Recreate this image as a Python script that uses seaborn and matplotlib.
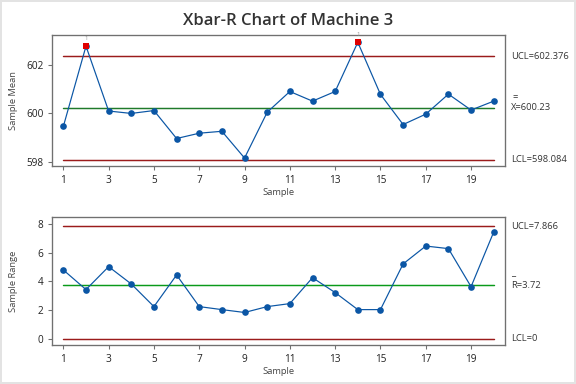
import matplotlib
matplotlib.use("Agg")
import matplotlib.pyplot as plt
import matplotlib.transforms as mtransforms
import pandas as pd
import seaborn as sns

samples = list(range(1, 21))
sample_means = [599.46, 602.79, 600.10, 600.00, 600.12, 598.96, 599.18, 599.26, 598.15, 600.05,
                600.91, 600.51, 600.91, 602.95, 600.79, 599.54, 599.97, 600.80, 600.14, 600.51]
sample_ranges = [4.80, 3.43, 5.03, 3.82, 2.24, 4.45, 2.24, 2.03, 1.83, 2.24,
                 2.45, 4.26, 3.22, 2.03, 2.03, 5.22, 6.47, 6.29, 3.63, 7.45]
xbar_limits = {"UCL": 602.376, "CL": 600.23, "LCL": 598.084}
r_limits = {"UCL": 7.866, "CL": 3.72, "LCL": 0.0}
out_of_control = [2, 14]

df = pd.DataFrame({"Sample": samples, "Mean": sample_means, "Range": sample_ranges})
flagged = df[df["Sample"].isin(out_of_control)]

sns.set_style("white")
plt.rcParams["font.family"] = ["Open Sans", "DejaVu Sans"]

blue = "#0B56A5"
red_line = "#9B1B1B"
green_top = "#1F7A2A"
green_bot = "#0A9A1A"
text_gray = "#333333"

fig = plt.figure(figsize=(6, 4), dpi=96)
fig.patch.set_edgecolor("#E3E3E3")
fig.patch.set_linewidth(3)

ax1 = fig.add_axes([0.0903, 0.5677, 0.7865, 0.341])
ax2 = fig.add_axes([0.0903, 0.1016, 0.7865, 0.333])


def style_axis(ax):
    for side in ax.spines.values():
        side.set_color("#707070")
        side.set_linewidth(1.0)
    ax.tick_params(axis="both", which="both", length=3, width=0.8, color="#707070",
                   labelsize=7.5, labelcolor="#222222", direction="out", left=True, bottom=True)
    ax.set_xlim(0.5, 20.5)
    ax.set_xticks(range(1, 21, 2))
    ax.set_xlabel("Sample", fontsize=7, color="#444444", labelpad=4)
    ax.xaxis.set_label_coords(0.5, -0.17)


def limit_lines(ax, limits, green):
    ax.plot([1, 20], [limits["UCL"]] * 2, color=red_line, lw=1.1, zorder=1)
    ax.plot([1, 20], [limits["LCL"]] * 2, color=red_line, lw=1.1, zorder=1)
    ax.plot([1, 20], [limits["CL"]] * 2, color=green, lw=1.1, zorder=1)


# Xbar chart
limit_lines(ax1, xbar_limits, green_top)
sns.lineplot(data=df, x="Sample", y="Mean", ax=ax1, color=blue, lw=0.9,
             marker="o", markersize=5, markeredgewidth=0, zorder=3)
sns.scatterplot(data=flagged, x="Sample", y="Mean", ax=ax1, color="#E00000",
                marker="s", s=26, linewidth=0, zorder=4)
for _, row in flagged.iterrows():
    ax1.text(row["Sample"], row["Mean"] + 0.22, "1", fontsize=4.5, color="#999999",
             ha="center", va="bottom")
ax1.set_ylim(597.82, 603.25)
ax1.set_yticks([598, 600, 602])
ax1.set_ylabel("Sample Mean", fontsize=7, color="#444444")
ax1.yaxis.set_label_coords(-0.075, 0.5)
style_axis(ax1)

tr1 = mtransforms.blended_transform_factory(ax1.transAxes, ax1.transData)
ax1.text(1.013, xbar_limits["UCL"], f"UCL={xbar_limits['UCL']}", transform=tr1,
         fontsize=7, color=text_gray, va="center")
ax1.text(1.013, xbar_limits["CL"], f"X={xbar_limits['CL']}", transform=tr1,
         fontsize=7, color=text_gray, va="center")
ax1.text(1.016, xbar_limits["CL"] + 0.42, "=", transform=tr1,
         fontsize=7, color=text_gray, va="center")
ax1.text(1.013, xbar_limits["LCL"], f"LCL={xbar_limits['LCL']}", transform=tr1,
         fontsize=7, color=text_gray, va="center")

# Range chart
limit_lines(ax2, r_limits, green_bot)
sns.lineplot(data=df, x="Sample", y="Range", ax=ax2, color=blue, lw=0.9,
             marker="o", markersize=5, markeredgewidth=0, zorder=3)
ax2.set_ylim(-0.44, 8.49)
ax2.set_yticks([0, 2, 4, 6, 8])
ax2.set_ylabel("Sample Range", fontsize=7, color="#444444")
ax2.yaxis.set_label_coords(-0.075, 0.5)
style_axis(ax2)

tr2 = mtransforms.blended_transform_factory(ax2.transAxes, ax2.transData)
ax2.text(1.013, r_limits["UCL"], f"UCL={r_limits['UCL']}", transform=tr2,
         fontsize=7, color=text_gray, va="center")
ax2.text(1.013, r_limits["CL"], f"R={r_limits['CL']}", transform=tr2,
         fontsize=7, color=text_gray, va="center")
ax2.text(1.014, r_limits["CL"] + 0.55, "_", transform=tr2,
         fontsize=7, color=text_gray, va="bottom")
ax2.text(1.013, r_limits["LCL"], "LCL=0", transform=tr2,
         fontsize=7, color=text_gray, va="center")

fig.text(0.5, 0.945, "Xbar-R Chart of Machine 3", ha="center", va="center",
         fontsize=12.5, color="#333333", fontweight="semibold")

fig.savefig("out.png", dpi=96)
